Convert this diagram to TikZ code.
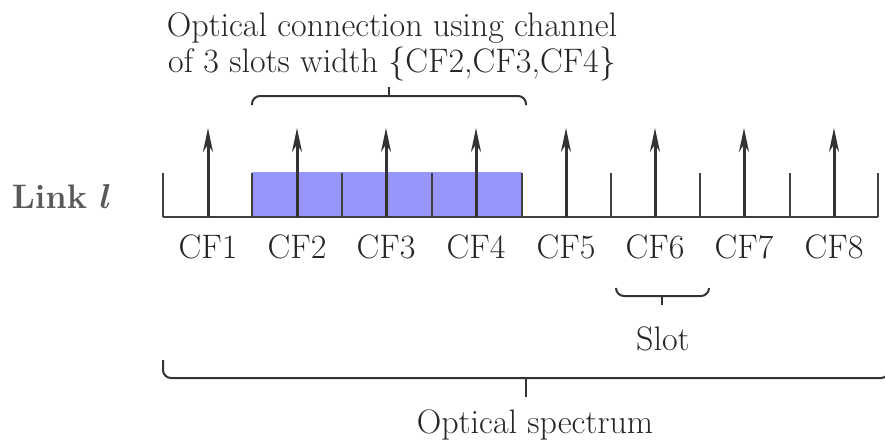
\documentclass[tikz,border=0pt]{standalone}
\usetikzlibrary{arrows.meta}
\definecolor{slotblue}{RGB}{150,150,252}
\tikzset{
	lbl/.style={font=\fontsize{17}{18}\selectfont,text=black!85,inner sep=0pt,anchor=base},
	brc/.style={line width=1pt,draw=black!80,rounded corners=4pt},
}
\begin{document}
\begin{tikzpicture}[x=0.5pt,y=-0.5pt,>={Stealth[length=12pt,width=5pt]}]
		\useasboundingbox (0,0) rectangle (885,441);
		\fill[slotblue] (252,172) rectangle (522,217);
		\foreach \x [count=\i] in {163,252,342,432,522,611,700,790,878}{
			\coordinate (s\i) at (\x,217);
			\coordinate (h\i) at (\x,173);
			\draw[line width=1pt,black!75] (s\i)--(h\i);
		}
		\draw[line width=1pt,black!75] (s1)--(s9);
		\foreach \x [count=\i] in {208,297,386,476,566,655,744,834}{
			\coordinate (b\i) at (\x,217);
			\coordinate (t\i) at (\x,128);
			\draw[->,line width=1.5pt,black!80] (b\i)--(t\i);
			\node[lbl] (cf\i) at (\x,258) {CF\i};
		}
		\node[lbl,font=\fontsize{17}{18}\selectfont\bfseries,text=black!65] (link) at (62,208) {Link {\boldmath$l$}};
		\node[lbl,align=center,font=\fontsize{17}{18}\selectfont] (conn) at (392,72) {Optical connection using channel\\of 3 slots width \{CF2,CF3,CF4\}};
		% channel bracket
		\coordinate (ca) at (252,105);
		\coordinate (cb) at (526,105);
		\coordinate (cm) at (389,96);
		\coordinate (ct) at (389,87);
		\draw[brc] (ca)|-(cm)-|(cb);
		\draw[brc] (cm)--(ct);
		% slot bracket
		\coordinate (sa) at (616,288);
		\coordinate (sb) at (709,288);
		\coordinate (sm) at (662,296);
		\coordinate (st) at (662,305);
		\draw[brc] (sa)|-(sm)-|(sb);
		\draw[brc] (sm)--(st);
		\node[lbl] (slot) at (663,350) {Slot};
		% spectrum bracket
		\coordinate (oa) at (163,360);
		\coordinate (ob) at (889,360);
		\coordinate (om) at (526,378);
		\coordinate (ot) at (526,397);
		\draw[brc] (oa)|-(om)-|(ob);
		\draw[brc] (om)--(ot);
		\node[lbl] (spec) at (535,433) {Optical spectrum};
	\end{tikzpicture}
\end{document}
